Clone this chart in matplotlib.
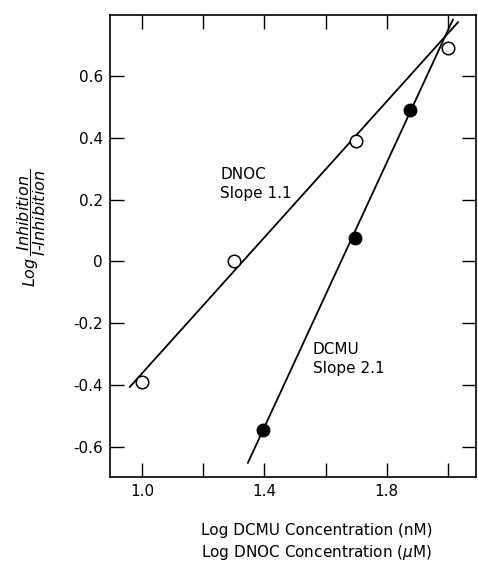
import numpy as np
import matplotlib
matplotlib.use("Agg")
import matplotlib.pyplot as plt

# measured points
dnoc_x = [1.0, 1.3, 1.7, 2.0]
dnoc_y = [-0.39, 0.0, 0.39, 0.69]
dcmu_x = [1.395, 1.695, 1.875]
dcmu_y = [-0.545, 0.075, 0.49]

# fitted lines (slope, intercept, x range)
dnoc_fit = (1.10, -1.462, 0.96, 2.033)
dcmu_fit = (2.14, -3.532, 1.346, 2.016)

xticks = [1.0, 1.2, 1.4, 1.6, 1.8, 2.0]
xticklabels = ["1.0", "", "1.4", "", "1.8", ""]
yticks = [-0.6, -0.4, -0.2, 0.0, 0.2, 0.4, 0.6]
yticklabels = ["-0.6", "-0.4", "-0.2", "0", "0.2", "0.4", "0.6"]

plt.rcParams['font.family'] = ['DejaVu Sans']

fig = plt.figure(figsize=(4.78, 5.61), dpi=100)
ax = fig.add_axes([0.230, 0.150, 0.766, 0.823])

for slope, icpt, x0, x1 in (dnoc_fit, dcmu_fit):
    xs = np.array([x0, x1])
    ax.plot(xs, slope * xs + icpt, color="black", lw=1.3, zorder=2)

ax.plot(dnoc_x, dnoc_y, "o", ms=9, mfc="white", mec="black", mew=1.1, zorder=3)
ax.plot(dcmu_x, dcmu_y, "o", ms=9, mfc="black", mec="black", zorder=3)

ax.text(1.255, 0.305, "DNOC\nSlope 1.1", fontsize=11, va="top", ha="left",
        linespacing=1.3)
ax.text(1.558, -0.262, "DCMU\nSlope 2.1", fontsize=11, va="top", ha="left",
        linespacing=1.3)

ax.set_xlim(0.895, 2.092)
ax.set_ylim(-0.697, 0.797)
ax.set_xticks(xticks)
ax.set_xticklabels(xticklabels)
ax.set_yticks(yticks)
ax.set_yticklabels(yticklabels)
ax.tick_params(direction="in", length=10, width=1.0, top=True, right=True,
               labelsize=11, pad=5)

for s in ax.spines.values():
    s.set_linewidth(1.2)

fig.text(0.066, 0.595, r"$Log\,\dfrac{Inhibition}{I\text{-}Inhibition}$",
         rotation=90, ha="center", va="center", fontsize=11.5)

fig.text(0.662, 0.055, "Log DCMU Concentration (nM)", ha="center",
         va="center", fontsize=11)
fig.text(0.662, 0.016, r"Log DNOC Concentration ($\mu$M)", ha="center",
         va="center", fontsize=11)

fig.savefig("out.png", dpi=100)
